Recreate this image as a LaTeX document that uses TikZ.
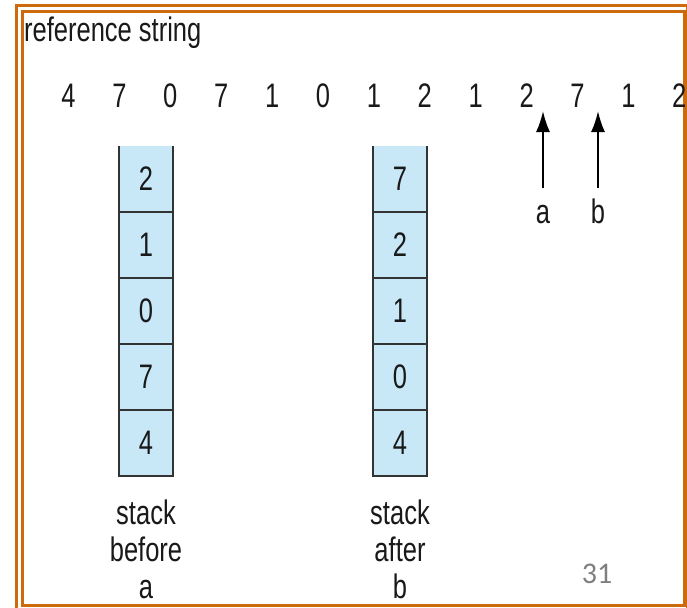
\documentclass[tikz,border=0pt]{standalone}
\usepackage{fontspec}
\usetikzlibrary{arrows.meta}
\newfontfamily\nar[FakeStretch=0.75]{Liberation Sans}
\newfontfamily\pagenum{Carlito}
\definecolor{frameor}{HTML}{CD6A0C}
\definecolor{cellblue}{HTML}{C8E8F8}
\definecolor{celledge}{HTML}{333333}
\definecolor{numgray}{HTML}{7F7F7F}
\tikzset{
  txt/.style={font=\nar\fontsize{34}{37}\selectfont, text=black!90, inner sep=0pt},
  refnum/.style={txt, anchor=base},
  cell/.style={fill=cellblue, minimum width=54pt, minimum height=66pt, inner sep=0pt, txt},
  celline/.style={draw=celledge, line width=1.6pt},
  ptr/.style={line width=2pt, -{Latex[length=21pt,width=14pt]}},
  frameline/.style={draw=frameor, line width=3pt},
}
\begin{document}
\begin{tikzpicture}[x=1pt,y=-1pt]
\useasboundingbox (0,0) rectangle (687,607);
% frames
\draw[frameline] (16,6) rectangle (687.5,612);
\draw[frameline] (22,12) rectangle (684,605);
% title
\node[txt, anchor=base west] (title) at (24,42) {reference string};
% reference string
\foreach \d [count=\i] in {4,7,0,7,1,0,1,2,1,2,7,1,2}{
  \node[refnum] (r\i) at ({68.5+50.9*(\i-1)},107) {\d};
}
% pointers
\node[txt, anchor=base] (la) at (543,223) {a};
\node[txt, anchor=base] (lb) at (598,223) {b};
\coordinate (sa) at (543,188);
\coordinate (ta) at (543,111);
\coordinate (sb) at (598,188);
\coordinate (tb) at (598,111);
\draw[ptr] (sa) -- (ta);
\draw[ptr] (sb) -- (tb);
% stack before a
\foreach \v [count=\i] in {2,1,0,7,4}{
  \node[cell] (sA\i) at (146,{179+66*(\i-1)}) {\v};
}
\draw[celline] (sA1.north west) -- (sA5.south west) -- (sA5.south east) -- (sA1.north east);
\foreach \i in {1,2,3,4}{\draw[celline] (sA\i.south west) -- (sA\i.south east);}
% stack after b
\foreach \v [count=\i] in {7,2,1,0,4}{
  \node[cell] (sB\i) at (400,{179+66*(\i-1)}) {\v};
}
\draw[celline] (sB1.north west) -- (sB5.south west) -- (sB5.south east) -- (sB1.north east);
\foreach \i in {1,2,3,4}{\draw[celline] (sB\i.south west) -- (sB\i.south east);}
% captions
\node[txt, align=center, anchor=base] (capA) at (146,598) {stack\\before\\a};
\node[txt, align=center, anchor=base] (capB) at (400,598) {stack\\after\\b};
% page number
\node[font=\pagenum\fontsize{30}{34}\selectfont, text=numgray, inner sep=0pt, anchor=base] (pg) at (597,583) {31};
\end{tikzpicture}
\end{document}
